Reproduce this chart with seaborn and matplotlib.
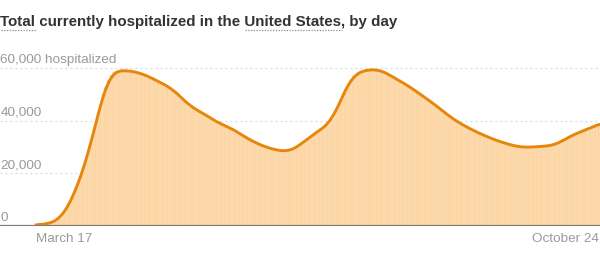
import numpy as np
import pandas as pd
import matplotlib
matplotlib.use("Agg")
import matplotlib.pyplot as plt
import seaborn as sns
from matplotlib.transforms import offset_copy, blended_transform_factory

# ---------------- data (thousands of people currently hospitalized, daily) ----------------
start_date = "2020-03-17"
hospitalized_k = [
    0.3, 0.4, 0.5, 0.6, 0.8, 1.0, 1.3, 1.6, 2.0, 2.5,
    3.5, 5.0, 6.8, 8.5, 10.5, 12.6, 15.0, 17.6, 20.6, 23.6,
    26.8, 30.2, 34.0, 37.8, 42.6, 45.8, 50.4, 52.9, 55.6, 57.3,
    58.3, 58.8, 59.0, 59.1, 59.1, 59.0, 58.9, 58.8, 58.6, 58.4,
    58.2, 57.9, 57.5, 57.0, 56.6, 56.1, 55.6, 55.1, 54.6, 54.1,
    53.6, 53.1, 52.6, 51.9, 51.0, 50.0, 49.0, 48.4, 47.0, 46.1,
    45.3, 44.8, 44.3, 43.8, 43.2, 42.6, 42.0, 41.4, 40.8, 40.2,
    39.6, 39.0, 38.5, 38.0, 38.0, 37.3, 36.9, 36.4, 35.8, 35.1,
    34.4, 33.8, 33.2, 32.7, 32.2, 31.7, 31.2, 30.8, 30.4, 30.0,
    29.7, 29.4, 29.1, 28.9, 28.7, 28.5, 28.4, 28.4, 28.5, 28.8,
    29.2, 29.8, 30.5, 31.3, 32.1, 32.9, 33.6, 34.3, 35.0, 35.7,
    36.4, 37.1, 37.8, 38.5, 39.3, 40.5, 43.0, 44.8, 47.8, 49.6,
    52.0, 54.0, 55.6, 56.8, 57.7, 58.3, 58.7, 59.0, 59.2, 59.3,
    59.4, 59.4, 59.4, 59.3, 59.0, 58.5, 58.0, 57.4, 56.8, 56.2,
    55.6, 55.1, 54.6, 54.0, 53.4, 52.8, 52.1, 51.4, 50.7, 50.0,
    49.3, 48.6, 48.0, 47.3, 46.6, 45.8, 45.0, 44.2, 43.4, 42.6,
    41.9, 41.2, 40.5, 39.8, 39.2, 38.6, 38.1, 37.6, 37.1, 36.6,
    36.1, 35.6, 35.1, 34.7, 34.3, 33.9, 33.5, 33.1, 32.7, 32.3,
    32.0, 31.7, 31.4, 31.1, 30.8, 30.5, 30.3, 30.1, 30.0, 29.9,
    29.9, 29.9, 30.0, 30.0, 30.1, 30.1, 30.2, 30.3, 30.4, 30.5,
    30.6, 30.8, 31.1, 31.6, 32.2, 32.9, 33.5, 34.0, 34.5, 34.9,
    35.3, 35.7, 36.1, 36.5, 36.9, 37.3, 37.7, 38.1, 38.4, 38.8,
    39.2, 39.6,
]
ytick_values = [0, 20000, 40000, 60000]
ytick_labels = ["0", "20,000", "40,000", "60,000 hospitalized"]
xtick_labels = ["March 17", "October 24"]
title_text = "Total currently hospitalized in the United States, by day"
underlined_parts = ["Total", "United States"]

# ---------------- styling ----------------
sns.set_theme(style="white")
plt.rcParams["font.family"] = ["Liberation Sans", "DejaVu Sans"]

BAR = "#fcd4a0"
BAR_EDGE = "#fde4c4"
LINE = "#e6870c"
GRID = "#d9d9d9"
BASE = "#85786a"
LABEL = "#9a9a9a"
TITLE = "#333333"

dates = pd.date_range(start_date, periods=len(hospitalized_k))
df = pd.DataFrame({
    "day": np.arange(len(dates)),
    "date": dates,
    "hosp": np.array(hospitalized_k) * 1000.0,
})
df["avg"] = df["hosp"].rolling(7, center=True, min_periods=1).mean()

W, H = 600, 254
fig = plt.figure(figsize=(W / 100, H / 100), dpi=100)

first_px, last_px = 36, 606          # pixel x of first/last day
ax_right_px = 612
ppd = (last_px - first_px) / (len(df) - 1)
base_px, top_px = 226, 68            # y pixel of 0 and 60,000
ymax = 64000
frac_per_unit = ((base_px - top_px) / H) / 60000
ax = fig.add_axes([0, (H - base_px) / H, ax_right_px / W, frac_per_unit * ymax])

sns.barplot(data=df, x="day", y="hosp", native_scale=True, width=1.0,
            color=BAR, saturation=1, edgecolor=BAR_EDGE, linewidth=0.35,
            errorbar=None, ax=ax, zorder=2)
sns.lineplot(data=df, x="day", y="avg", color=LINE, linewidth=2.1, ax=ax,
             zorder=4, solid_capstyle="round")

ax.set_xlim(-first_px / ppd, (ax_right_px - first_px) / ppd)
ax.set_ylim(0, ymax)
for s in ax.spines.values():
    s.set_visible(False)
ax.set_xticks([])
ax.set_yticks([])
ax.set_xlabel("")
ax.set_ylabel("")
ax.patch.set_alpha(0)

for v in ytick_values[1:]:
    ax.axhline(v, color=GRID, lw=0.9, ls=(0, (1.5, 2.5)), zorder=1)
ax.axhline(0, color=BASE, lw=1.6, zorder=5)

ytrans = offset_copy(ax.get_yaxis_transform(), fig=fig, x=0, y=5, units="dots")
for v, lab in zip(ytick_values, ytick_labels):
    ax.text(0.5 / ax_right_px, v, lab, transform=ytrans, ha="left", va="baseline",
            fontsize=9.7, color=LABEL, zorder=6)

xtrans = blended_transform_factory(ax.transData, fig.transFigure)
ax.text(df["day"].iloc[0], (H - 239.5) / H, xtick_labels[0], transform=xtrans,
        ha="left", va="center", fontsize=9.7, color=LABEL)
fig.text((W - 1) / W, (H - 239.5) / H, xtick_labels[1],
         ha="right", va="center", fontsize=9.7, color=LABEL)

# title with dotted underlines
title_x, title_base = 0.5 / W, (H - 26) / H
t = fig.text(title_x, title_base, title_text, fontsize=10.9, fontweight="bold",
             color=TITLE, ha="left", va="baseline")
fig.canvas.draw()
r = fig.canvas.get_renderer()
for part in underlined_parts:
    idx = title_text.index(part) + len(part)
    tmp = fig.text(title_x, title_base, title_text[:idx], fontsize=10.9, fontweight="bold",
                   ha="left", va="baseline", alpha=0)
    tmp2 = fig.text(title_x, title_base, part, fontsize=10.9, fontweight="bold",
                    ha="left", va="baseline", alpha=0)
    e1 = tmp.get_window_extent(r)
    e2 = tmp2.get_window_extent(r)
    x1 = e1.x1
    x0 = x1 - e2.width
    tmp.remove()
    tmp2.remove()
    yy = (H - 29.5) / H
    fig.add_artist(plt.Line2D([x0 / W, x1 / W], [yy, yy], transform=fig.transFigure,
                              color="#8a8a8a", lw=0.9, ls=(0, (1, 1.2))))

fig.savefig("out.png", dpi=100)
